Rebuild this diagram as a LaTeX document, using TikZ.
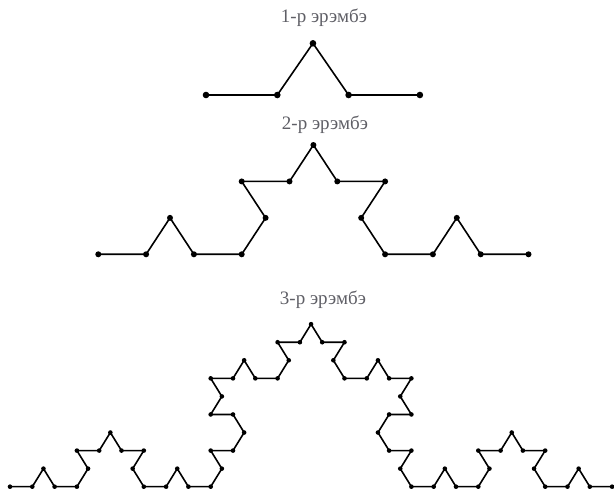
\documentclass[tikz,border=0pt]{standalone}
\usepackage{fontspec}
\setmainfont{Liberation Serif}
\definecolor{labelgray}{RGB}{95,95,102}
\begin{document}
\begin{tikzpicture}[x=1pt,y=1pt,
  curve/.style={line width=1.6pt,line join=round,black},
  dotA/.style={circle,fill=black,inner sep=0pt,minimum size=6.6pt},
  dotB/.style={circle,fill=black,inner sep=0pt,minimum size=6pt},
  dotC/.style={circle,fill=black,inner sep=0pt,minimum size=4.6pt},
  lbl/.style={anchor=base,text=labelgray,font=\fontsize{19}{22}\selectfont,inner sep=0pt}]
\useasboundingbox (0,0) rectangle (614,492);
% labels
\node[lbl] (t1) at (324,469) {1-р эрэмбэ};
\node[lbl] (t2) at (325,362) {2-р эрэмбэ};
\node[lbl] (t3) at (323,187) {3-р эрэмбэ};
% order 1
\begin{scope}[shift={(206,397)},yscale=0.837]
\draw[curve] (0,0) node[dotA] (a0) {}
  \foreach \k [evaluate=\k as \a using {60*((\k==1)-(\k==2))}] in {0,...,3}
  { -- ++(\a:71.3) node[dotA] (a\k) {} };
\end{scope}
% order 2
\begin{scope}[shift={(98.3,237.7)},yscale=0.88]
\draw[curve] (0,0) node[dotB] (b0) {}
  \foreach \k [evaluate=\k as \a using {60*((mod(\k,4)==1)-(mod(\k,4)==2)+(floor(\k/4)==1)-(floor(\k/4)==2))}] in {0,...,15}
  { -- ++(\a:47.8) node[dotB] (b\k) {} };
\end{scope}
% order 3
\begin{scope}[shift={(10,5.3)},yscale=0.935]
\draw[curve] (0,0) node[dotC] (c0) {}
  \foreach \k [evaluate=\k as \a using {60*((mod(\k,4)==1)-(mod(\k,4)==2)+(mod(floor(\k/4),4)==1)-(mod(floor(\k/4),4)==2)+(floor(\k/16)==1)-(floor(\k/16)==2))}] in {0,...,63}
  { -- ++(\a:22.3) node[dotC] (c\k) {} };
\end{scope}
\end{tikzpicture}
\end{document}
